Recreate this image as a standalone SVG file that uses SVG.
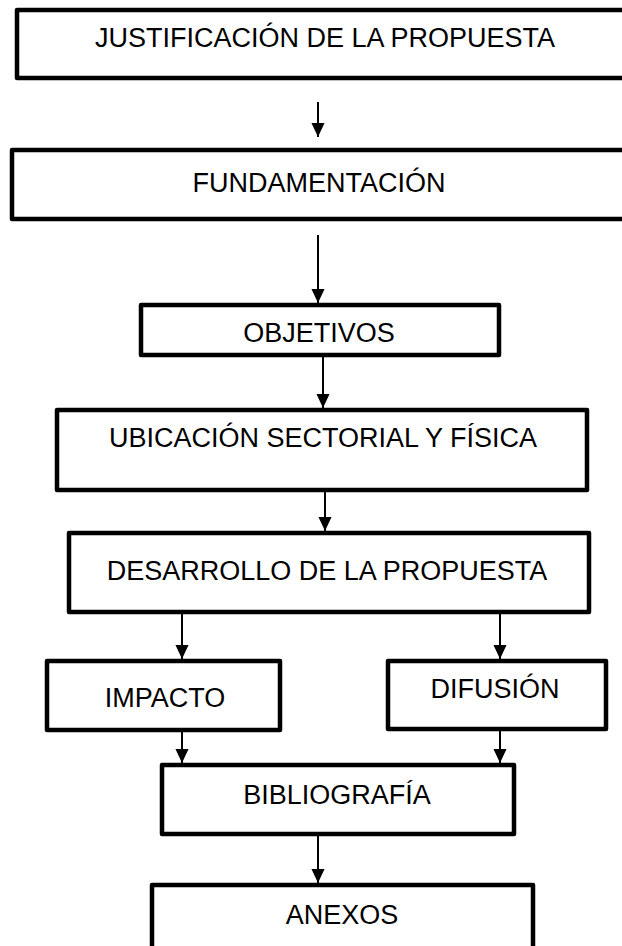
<svg xmlns="http://www.w3.org/2000/svg" width="622" height="946" viewBox="0 0 622 946">
<style>
.box{fill:#fff;stroke:#000;stroke-width:4.5;stroke-linejoin:round}
.lbl{font-family:"Liberation Sans",Arial,sans-serif;font-size:27px;fill:#000;text-anchor:middle}
.arr{stroke:#000;stroke-width:2;fill:none;marker-end:url(#ah)}
</style>
<defs>
<marker id="ah" markerUnits="userSpaceOnUse" markerWidth="14" markerHeight="15" refX="15" refY="7" orient="auto" viewBox="0 0 15 14">
<path d="M0,0 L15,7 L0,14 z" fill="#000"/>
</marker>
</defs>
<rect width="622" height="946" fill="#fff"/>
<g id="connectors">
<line class="arr" x1="318" y1="102" x2="318" y2="137"/>
<line class="arr" x1="318" y1="235" x2="318" y2="303"/>
<line class="arr" x1="323" y1="357" x2="323" y2="408"/>
<line class="arr" x1="325" y1="492" x2="325" y2="531"/>
<line class="arr" x1="182" y1="614" x2="182" y2="659"/>
<line class="arr" x1="500" y1="614" x2="500" y2="659"/>
<line class="arr" x1="182" y1="732" x2="182" y2="763"/>
<line class="arr" x1="500" y1="731" x2="500" y2="763"/>
<line class="arr" x1="318" y1="836" x2="318" y2="883"/>
</g>
<g id="justificacion">
<rect class="box" x="17" y="10" width="620" height="68"/>
<text class="lbl" x="325" y="47">JUSTIFICACIÓN DE LA PROPUESTA</text>
</g>
<g id="fundamentacion">
<rect class="box" x="12" y="150" width="625" height="69"/>
<text class="lbl" x="319" y="192">FUNDAMENTACIÓN</text>
</g>
<g id="objetivos">
<rect class="box" x="141" y="305" width="358" height="50"/>
<text class="lbl" x="319" y="342">OBJETIVOS</text>
</g>
<g id="ubicacion">
<rect class="box" x="57" y="410" width="530" height="80"/>
<text class="lbl" x="323" y="447">UBICACIÓN SECTORIAL Y FÍSICA</text>
</g>
<g id="desarrollo">
<rect class="box" x="69" y="533" width="520" height="79"/>
<text class="lbl" x="327" y="580">DESARROLLO DE LA PROPUESTA</text>
</g>
<g id="impacto">
<rect class="box" x="47" y="661" width="233" height="69"/>
<text class="lbl" x="165" y="707">IMPACTO</text>
</g>
<g id="difusion">
<rect class="box" x="388" y="661" width="218" height="68"/>
<text class="lbl" x="495" y="698">DIFUSIÓN</text>
</g>
<g id="bibliografia">
<rect class="box" x="162" y="765" width="352" height="69"/>
<text class="lbl" x="337" y="804">BIBLIOGRAFÍA</text>
</g>
<g id="anexos">
<rect class="box" x="152" y="885" width="381" height="80"/>
<text class="lbl" x="342" y="924">ANEXOS</text>
</g>
</svg>
